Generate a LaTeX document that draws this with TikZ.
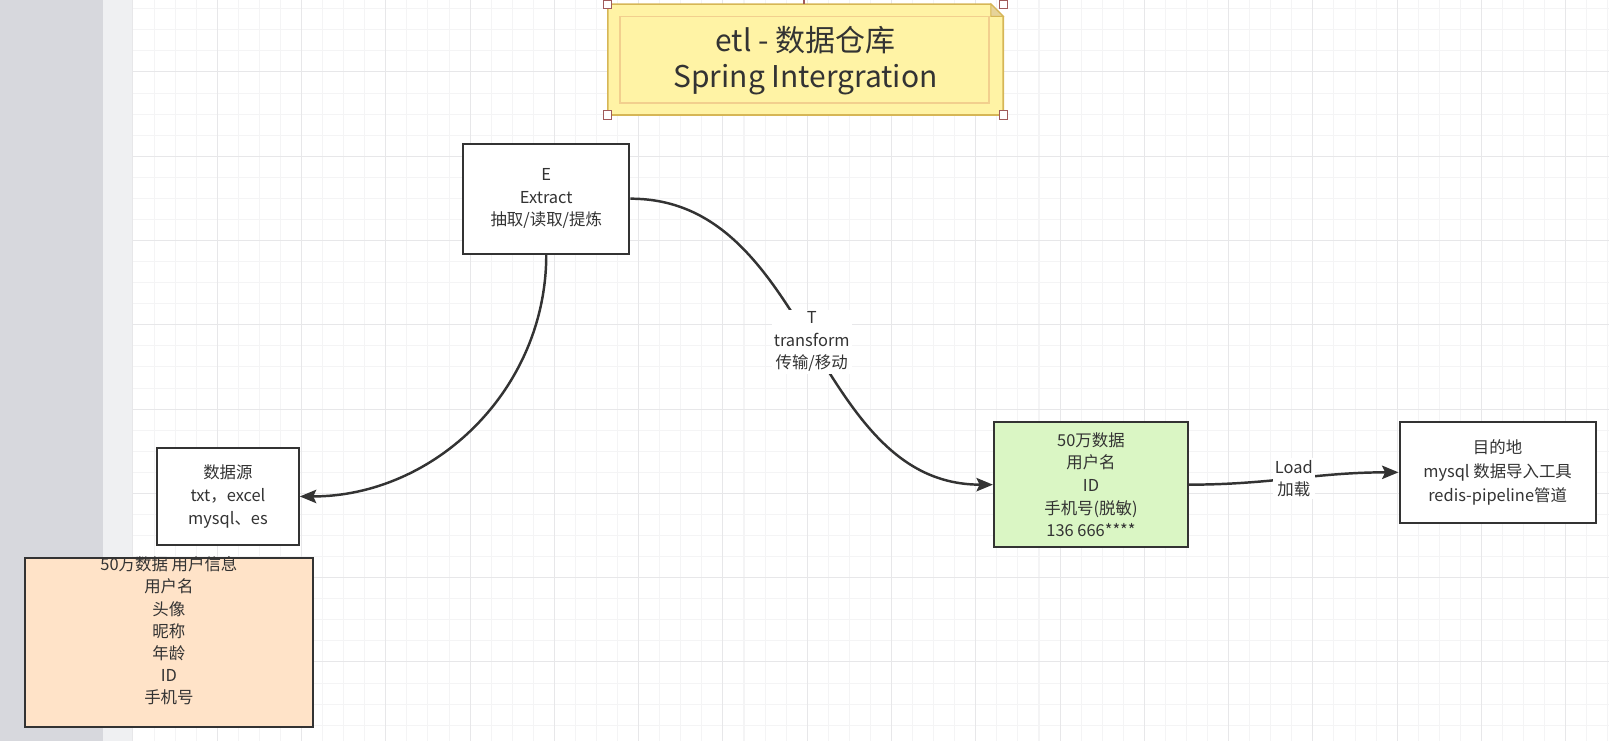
\documentclass[tikz,border=0pt]{standalone}
\usepackage{fontspec}
\setmainfont{Noto Sans CJK SC}
\usetikzlibrary{arrows.meta}

\definecolor{stripgray}{HTML}{D7D8DD}
\definecolor{striplight}{HTML}{EFF0F2}
\definecolor{gridminor}{HTML}{F4F4F5}
\definecolor{gridmajor}{HTML}{E7E7E9}
\definecolor{notefill}{HTML}{FFF3A5}
\definecolor{noteline}{HTML}{D6B656}
\definecolor{noteinner}{HTML}{F2CF8E}
\definecolor{handle}{HTML}{A05A5A}
\definecolor{peach}{HTML}{FFE3C8}
\definecolor{mint}{HTML}{DAF6C4}
\definecolor{ink}{HTML}{333333}

\tikzset{
  box/.style={draw=ink, line width=1pt, fill=white, text=ink, align=center,
    font=\fontsize{8}{11}\selectfont, inner sep=1pt},
  boxtext/.style={text=ink, align=center, font=\fontsize{8}{10.8}\selectfont, inner sep=0pt},
  notetext/.style={text=ink, align=center, font=\fontsize{14.6}{17.5}\selectfont, inner sep=0pt},
  edgelabel/.style={fill=white, text=ink, align=center, font=\fontsize{8}{11}\selectfont, inner sep=1pt},
  flow/.style={draw=ink, line width=1.2pt, -{Stealth[length=8pt,width=6.5pt,inset=1.5pt]}},
  handlebox/.style={draw=handle, fill=white, line width=0.5pt},
}

\begin{document}
\begin{tikzpicture}[x=0.5pt,y=0.5pt,yscale=-1,xscale=1]
\useasboundingbox (0,0) rectangle (1567,722);

%Shape: Rectangle [side strip]
\fill[stripgray] (0,0) rectangle (100,722);
\fill[striplight] (100,0) rectangle (129.5,722);
%Grid
\foreach \i in {0,...,70} \draw[gridminor, line width=0.5pt] ({129.5+20.52*\i},0) -- ({129.5+20.52*\i},722);
\foreach \j in {-3,...,32} \draw[gridminor, line width=0.5pt] (129.5,{70.1+20.52*\j}) -- (1567,{70.1+20.52*\j});
\foreach \i in {0,...,17} \draw[gridmajor, line width=0.5pt] ({129.5+82.08*\i},0) -- ({129.5+82.08*\i},722);
\foreach \j in {0,...,7} \draw[gridmajor, line width=0.5pt] (129.5,{70.1+82.08*\j}) -- (1567,{70.1+82.08*\j});

%Shape: Note [title]
\draw[noteline, fill=notefill, line width=0.8pt] (592,4) -- (965,4) -- (977,16) -- (977,112) -- (592,112) -- cycle;
\draw[noteline, fill=noteline!60, line width=0.5pt] (965,4) -- (965,16) -- (977,16) -- cycle;
\draw[noteinner, line width=0.8pt] (604,16) rectangle (963,100);
%Shape: selection handles
\draw[handle, line width=0.5pt] (783,0) -- (783,4);
\foreach \hx/\hy in {592/4, 977/4, 592/112, 977/112}
  \draw[handlebox] ({\hx-4},{\hy-4}) rectangle ({\hx+4},{\hy+4});
% Text Node
\node[notetext] (title) at (784.5,59) {etl - 数据仓库\\Spring Intergration};

%Shape: Rectangle [E]
\node[box, minimum width=81pt, minimum height=53.5pt] (extract) at (532,193.5) {E\\Extract\\抽取/读取/提炼};
%Shape: Rectangle [source]
\node[box, minimum width=69pt, minimum height=47.5pt] (source) at (222,483.5) {数据源\\txt，excel\\mysql、es};
%Shape: Rectangle [user info]
\node[box, fill=peach, minimum width=140.5pt, minimum height=82.5pt] (users) at (164.5,625.5) {};
% Text Node
\node[boxtext, yshift=5.5pt] (userstext) at (users.center) {50万数据 用户信息\\用户名\\头像\\昵称\\年龄\\ID\\手机号};
%Shape: Rectangle [cleaned data]
\node[box, fill=mint, minimum width=94.5pt, minimum height=61pt] (cleaned) at (1062.5,472) {50万数据\\用户名\\ID\\手机号(脱敏)\\136 666****};
%Shape: Rectangle [target]
\node[box, minimum width=95.5pt, minimum height=49pt, font=\fontsize{8}{11.8}\selectfont] (target) at (1458.5,460) {目的地\\mysql 数据导入工具\\redis-pipeline管道};

%Curve Lines
\draw[flow] (extract.south) to[out=90,in=0] (source.east);
\draw[flow] (extract.east) to[out=0,in=180] node[edgelabel] (transform) {T\\transform\\传输/移动} (cleaned.west);
\draw[flow] (cleaned.east) to[out=0,in=180] node[edgelabel, pos=0.5] (load) {Load\\加载} (target.west);

\end{tikzpicture}
\end{document}
